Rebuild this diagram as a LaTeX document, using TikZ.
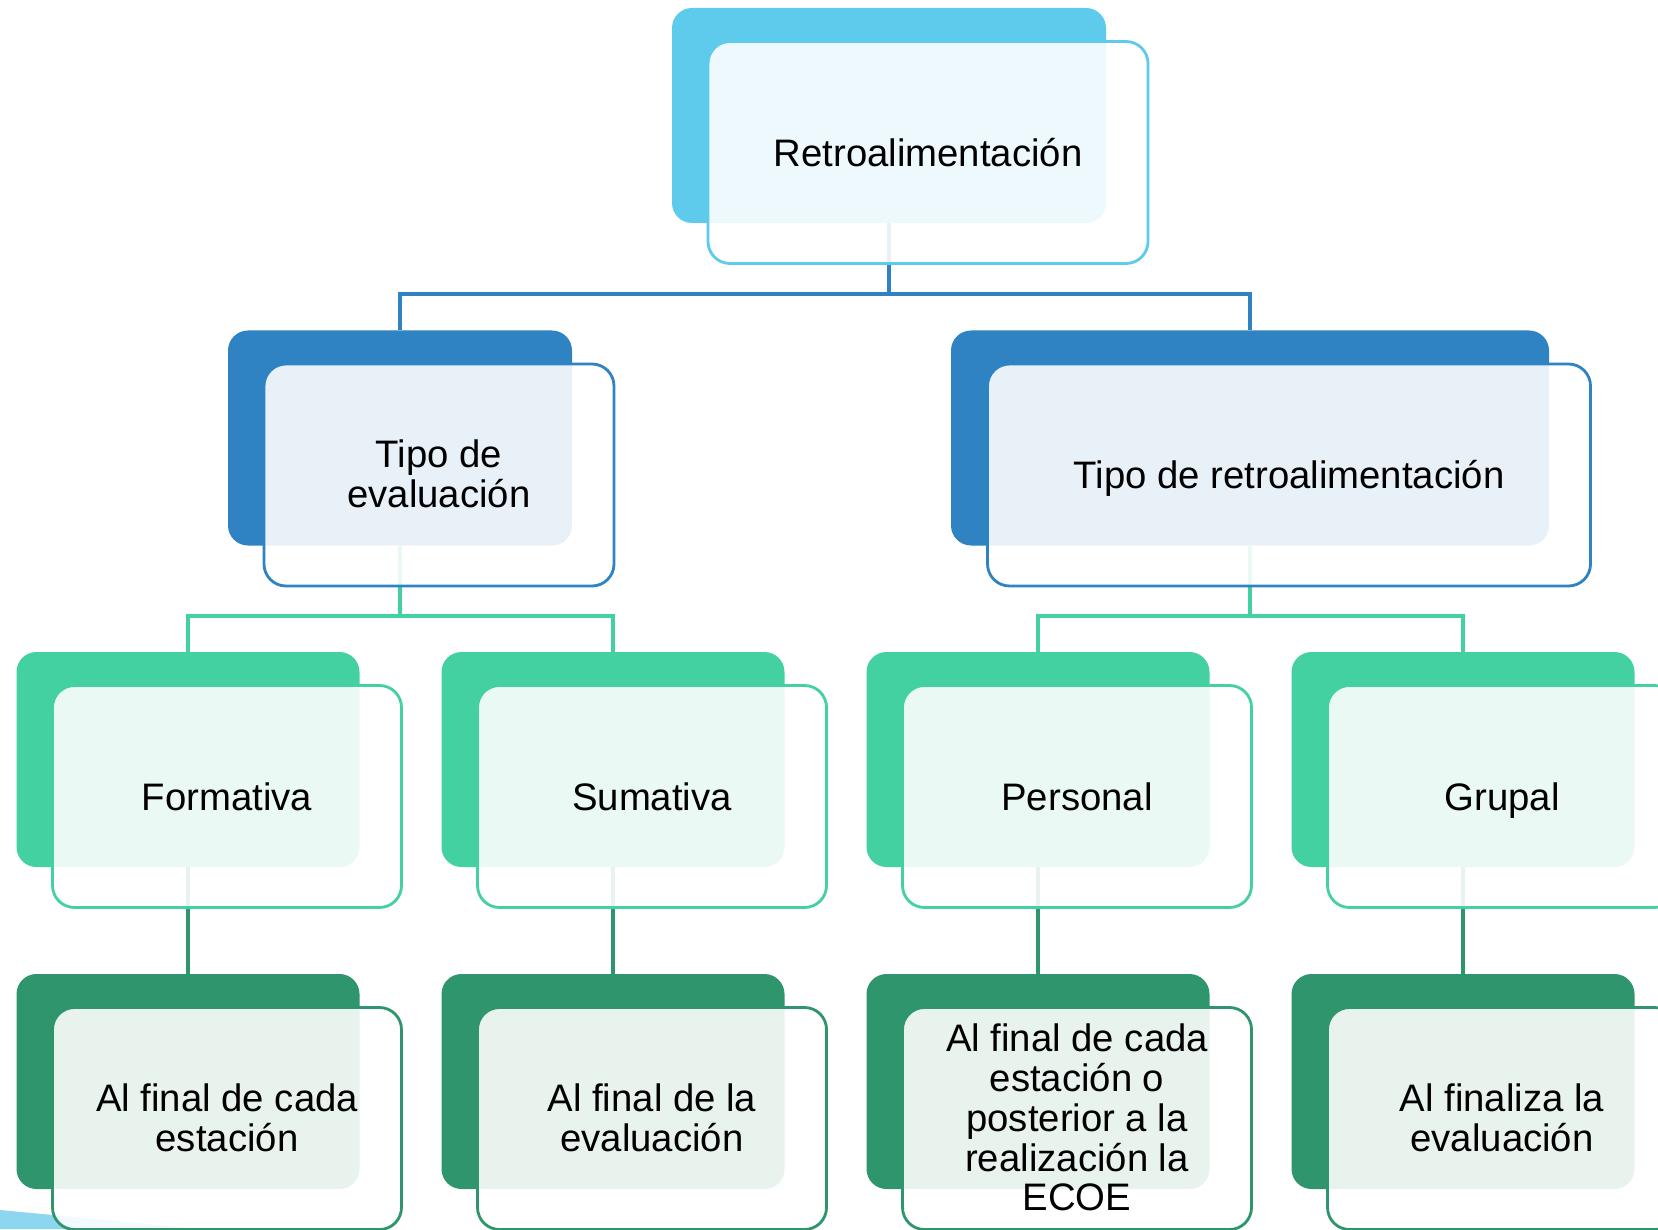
\documentclass[tikz,border=0pt]{standalone}
\usepackage{fontspec}
\setmainfont{Liberation Sans}
\usetikzlibrary{positioning, backgrounds}

\definecolor{skyblue}{HTML}{5ECBED}
\definecolor{midblue}{HTML}{2F83C3}
\definecolor{mint}{HTML}{43D1A2}
\definecolor{darkmint}{HTML}{2E956D}
\definecolor{paleblue}{HTML}{8DD6F0}

\begin{document}
\begin{tikzpicture}[node distance=0.82cm,
  back node/.style={rounded corners=0.2cm, fill=#1, inner sep=0pt, outer sep=0pt, minimum width=3.43cm, minimum height=2.15cm},
  front node/.style={rounded corners=0.22cm, draw=#1, line width=0.8pt, fill=white, fill opacity=0.89, text opacity=1,
    inner sep=0pt, minimum width=3.49cm, minimum height=2.22cm, align=center, font=\fontsize{10.9}{11.3}\selectfont},
  one line/.style={execute at begin node=\rule{0pt}{10.3pt}, execute at end node=\rule[-2.4pt]{0pt}{2.4pt}},
  multi line/.style={execute at begin node=\rule{0pt}{12pt}, execute at end node=\rule[-0.6pt]{0pt}{0.6pt}},
  link/.style={draw=#1, line width=0.9pt}]

    \useasboundingbox (0,0) rectangle (16.58,12.29);

    \node[back node=skyblue, minimum width=4.34cm] (retroB) at (8.89,11.135) {};
    \node[front node=skyblue, one line, minimum width=4.40cm] (retro) at ([shift={(0.39,-0.37)}]retroB.center) {Retroalimentación};

    \node[back node=midblue, minimum width=3.44cm] (tipoevB) at (4.00,7.91) {};
    \node[front node=midblue, multi line, minimum width=3.50cm] (tipoev) at ([shift={(0.39,-0.37)}]tipoevB.center) {Tipo de\\evaluación};

    \node[back node=midblue, minimum width=5.98cm] (tiporeB) at (12.50,7.91) {};
    \node[front node=midblue, one line, minimum width=6.03cm] (tipore) at ([shift={(0.39,-0.37)}]tiporeB.center) {Tipo de retroalimentación};

    \node[back node=mint] (formB) at (1.88,4.695) {};
    \node[back node=mint, right=of formB] (sumB) {};
    \node[back node=mint, right=of sumB] (persB) {};
    \node[back node=mint, right=of persB] (grupB) {};
    \node[front node=mint, one line] (form) at ([shift={(0.39,-0.37)}]formB.center) {Formativa};
    \node[front node=mint, one line] (sum) at ([shift={(0.39,-0.37)}]sumB.center) {Sumativa};
    \node[front node=mint, one line] (pers) at ([shift={(0.39,-0.37)}]persB.center) {Personal};
    \node[front node=mint, one line] (grup) at ([shift={(0.39,-0.37)}]grupB.center) {Grupal};

    \node[back node=darkmint, below=1.07cm of formB] (cadaB) {};
    \node[back node=darkmint, below=1.07cm of sumB] (finevB) {};
    \node[back node=darkmint, below=1.07cm of persB] (ecoeB) {};
    \node[back node=darkmint, below=1.07cm of grupB] (finalizaB) {};
    \node[front node=darkmint, multi line] (cada) at ([shift={(0.39,-0.37)}]cadaB.center) {Al final de cada\\estación};
    \node[front node=darkmint, multi line] (finev) at ([shift={(0.39,-0.37)}]finevB.center) {Al final de la\\evaluación};
    \node[front node=darkmint, multi line] (ecoe) at ([shift={(0.39,-0.37)}]ecoeB.center) {Al final de cada\\estación o\\posterior a la\\realización la\\ECOE};
    \node[front node=darkmint, multi line] (finaliza) at ([shift={(0.39,-0.37)}]finalizaB.center) {Al finaliza la\\evaluación};

    \begin{scope}[on background layer]
        \fill[white] (0,0) rectangle (16.58,12.29);
        \fill[paleblue] (0,0.19) -- (2.0,0) -- (0,0) -- cycle;
        \coordinate (barA) at (0,9.35);
        \coordinate (barB) at (0,6.13);
        \draw[link=midblue] (retroB.south) -- (retroB.south |- barA) -| (tipoevB.north);
        \draw[link=midblue] (retroB.south |- barA) -| (tiporeB.north);
        \draw[link=mint] (tipoevB.south) -- (tipoevB.south |- barB) -| (formB.north);
        \draw[link=mint] (tipoevB.south |- barB) -| (sumB.north);
        \draw[link=mint] (tiporeB.south) -- (tiporeB.south |- barB) -| (persB.north);
        \draw[link=mint] (tiporeB.south |- barB) -| (grupB.north);
        \draw[link=darkmint] (formB.south) -- (cadaB.north);
        \draw[link=darkmint] (sumB.south) -- (finevB.north);
        \draw[link=darkmint] (persB.south) -- (ecoeB.north);
        \draw[link=darkmint] (grupB.south) -- (finalizaB.north);
    \end{scope}
\end{tikzpicture}
\end{document}
